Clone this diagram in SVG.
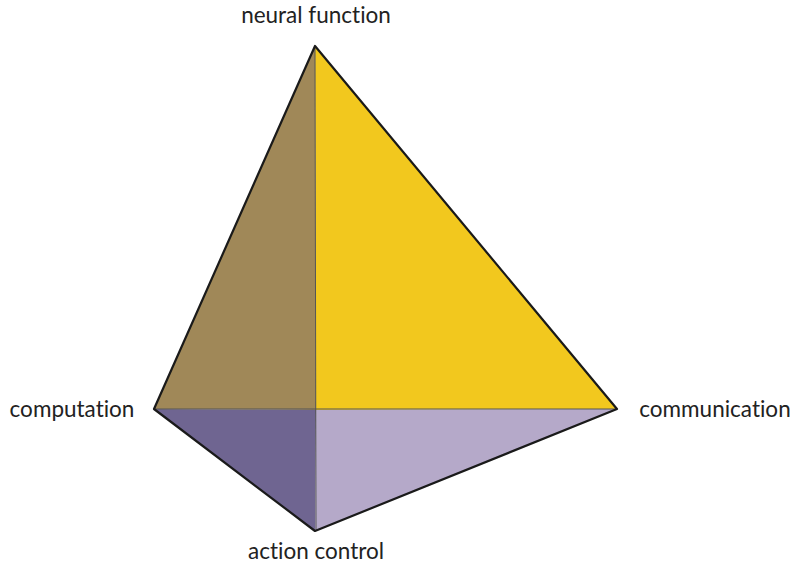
<svg xmlns="http://www.w3.org/2000/svg" width="794" height="570" viewBox="0 0 794 570">
<style>
.lbl{font-family:Lato,"Open Sans","Liberation Sans",sans-serif;font-size:22.5px;fill:#222;text-anchor:middle;font-variant-ligatures:none}
.face{stroke:none}
.edge{fill:none;stroke:#1a1a1a;stroke-width:2.2;stroke-linejoin:round}
.inner{fill:none;stroke:#555;stroke-width:1}
</style>
<rect width="794" height="570" fill="#fff"/>
<g id="faces">
<polygon class="face" points="315,46 154,409 316,410" fill="#a08858"/>
<polygon class="face" points="315,46 316,410 617,409" fill="#f2c81e"/>
<polygon class="face" points="154,409 316,410 315,531" fill="#6f6591"/>
<polygon class="face" points="316,410 617,409 315,531" fill="#b5a9c9"/>
</g>
<g id="connectors">
<line class="inner" x1="315" y1="46" x2="316" y2="531"/>
<line class="inner" x1="154" y1="409" x2="617" y2="409"/>
<polygon class="edge" points="315,46 617,409 315,531 154,409"/>
</g>
<g id="neural-function"><text class="lbl" x="316" y="23">neural function</text></g>
<g id="computation"><text class="lbl" x="72" y="417">computation</text></g>
<g id="communication"><text class="lbl" x="715" y="417">communication</text></g>
<g id="action-control"><text class="lbl" x="316" y="559">action control</text></g>
</svg>
